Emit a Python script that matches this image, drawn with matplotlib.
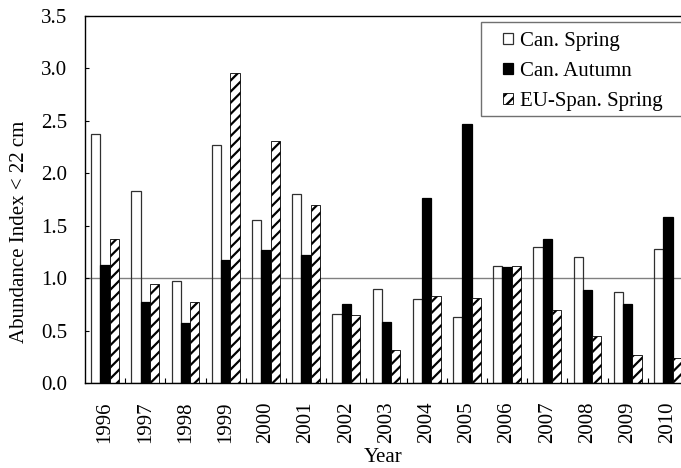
import numpy as np
import matplotlib
matplotlib.use("Agg")
import matplotlib.pyplot as plt
from matplotlib.patches import Rectangle

plt.rcParams['font.family'] = ['Liberation Serif', 'DejaVu Serif']
plt.rcParams['hatch.linewidth'] = 1.6

# Abundance index < 22 cm
years = ["1996", "1997", "1998", "1999", "2000", "2001", "2002", "2003",
         "2004", "2005", "2006", "2007", "2008", "2009", "2010"]
can_spring = [2.37, 1.83, 0.97, 2.27, 1.55, 1.80, 0.66, 0.90,
              0.80, 0.63, 1.12, 1.30, 1.20, 0.87, 1.28]
can_autumn = [1.13, 0.77, 0.57, 1.17, 1.27, 1.22, 0.75, 0.58,
              1.76, 2.47, 1.11, 1.37, 0.89, 0.75, 1.58]
eu_spring = [1.37, 0.94, 0.77, 2.96, 2.31, 1.70, 0.65, 0.31,
             0.83, 0.81, 1.12, 0.70, 0.45, 0.27, 0.24]
series_names = ["Can. Spring", "Can. Autumn", "EU-Span. Spring"]
ref_level = 1.0

FS = 15
W, H = 681, 468
fig = plt.figure(figsize=(W / 100, H / 100), dpi=100)
# plot area runs a little past the right edge, like the original
ax = fig.add_axes([85 / W, 1 - 383 / H, 603 / W, 367 / H])

x = np.arange(len(years))
bw = 0.232

ax.axhline(ref_level, color='#808080', lw=1, zorder=1)
b1 = ax.bar(x - bw, can_spring, bw, facecolor='none', edgecolor='#303030',
            lw=0.9, zorder=2, label=series_names[0])
b2 = ax.bar(x, can_autumn, bw, facecolor='black', edgecolor='black',
            lw=0.9, zorder=2, label=series_names[1])
b3 = ax.bar(x + bw, eu_spring, bw, facecolor='white', edgecolor='black',
            hatch='///', lw=0.6, zorder=2, label=series_names[2])

ax.set_xlim(-0.5, len(years) - 0.5)
ax.set_ylim(0, 3.5)
ax.set_yticks(np.arange(0, 3.51, 0.5))
ax.set_yticklabels(["%.1f" % v for v in np.arange(0, 3.51, 0.5)], fontsize=FS)
ax.set_xticks(x)
ax.set_xticklabels(years, rotation=90, fontsize=FS)
ax.set_xticks(np.arange(0.5, len(years) - 0.5, 1.0), minor=True)
ax.tick_params(axis='x', which='major', length=0, pad=13.5)
ax.tick_params(axis='x', which='minor', direction='in', length=3.6, width=0.8)
ax.tick_params(axis='y', direction='in', length=3, width=0.8, pad=13, right=False)

for s in ['left', 'bottom', 'top', 'right']:
    ax.spines[s].set_color('black')
    ax.spines[s].set_linewidth(1.0)

# legend box (extends past the figure edge in the original)
box = Rectangle((481 / W, 1 - 116 / H), 230 / W, 94 / H, transform=fig.transFigure,
                facecolor='white', edgecolor='#707070', lw=1, zorder=4, clip_on=False)
ax.add_artist(box)
leg = ax.legend(handles=[b1, b2, b3], loc='center left',
                bbox_to_anchor=(503 / W, 1 - 71.5 / H), bbox_transform=fig.transFigure,
                frameon=False, fontsize=FS, borderpad=0, borderaxespad=0,
                handlelength=0.48, handleheight=0.48, handletextpad=0.35,
                labelspacing=0.53)
leg.set_zorder(6)
for h in leg.legend_handles:
    if h.get_facecolor()[3] == 0:
        h.set_facecolor('white')

fig.text(20 / W, 1 - 232 / H, "Abundance Index < 22 cm", rotation=90,
         ha='center', va='center', fontsize=FS)
fig.text(383.5 / W, 1 / H, "Year", ha='center', va='bottom', fontsize=FS)

fig.savefig("out.png", dpi=100)
